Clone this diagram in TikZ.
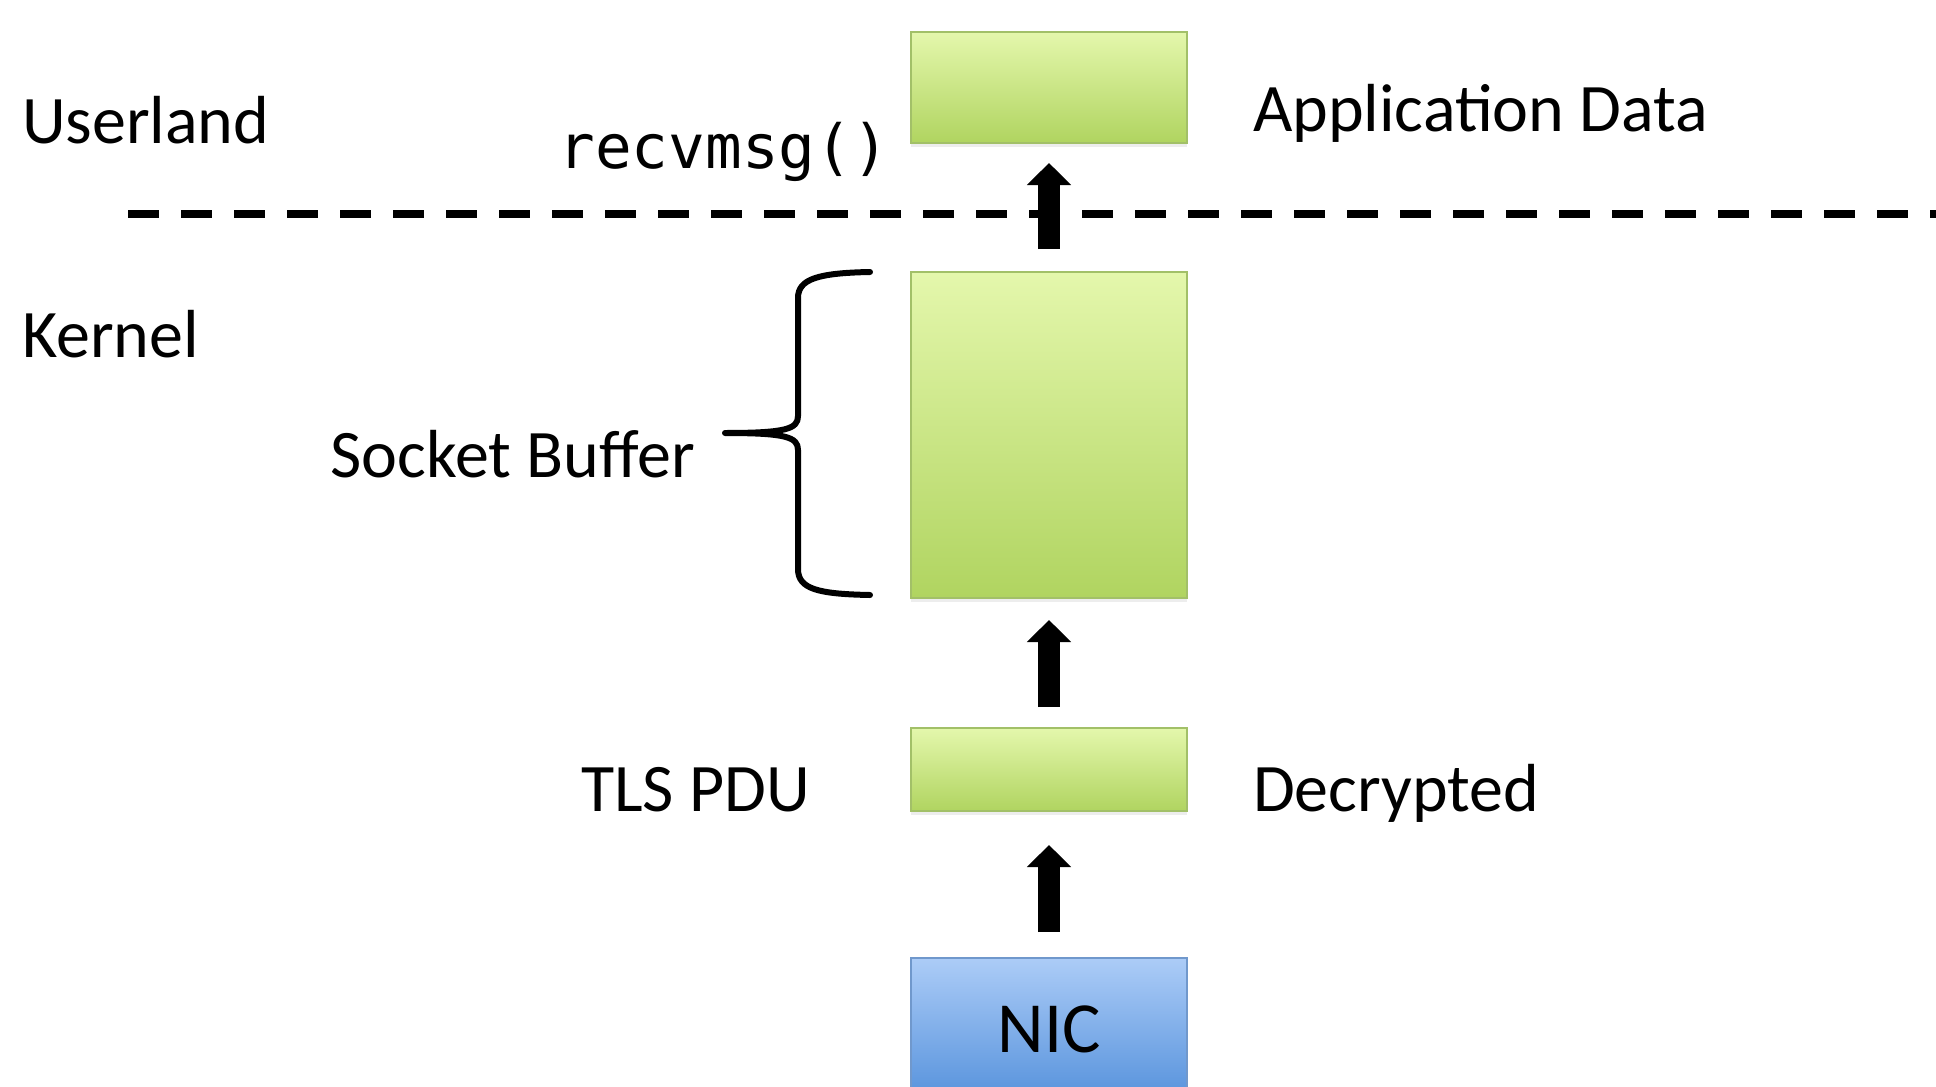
\documentclass[tikz,border=0pt]{standalone}
\usepackage{fontspec}
\setmainfont{Carlito}
\newfontfamily\codefont{DejaVu Sans Mono}
\usetikzlibrary{arrows.meta,shadows}

\definecolor{greentop}{RGB}{228,247,172}
\definecolor{greenbot}{RGB}{176,212,96}
\definecolor{greenedge}{RGB}{162,192,104}
\definecolor{bluetop}{RGB}{172,204,247}
\definecolor{bluebot}{RGB}{86,146,220}
\definecolor{blueedge}{RGB}{112,152,204}

\begin{document}
\begin{tikzpicture}[x=0.5pt,y=-0.5pt,
  every node/.style={inner sep=0pt, outer sep=0pt},
  label text/.style={font=\fontsize{34}{40}\selectfont},
  code text/.style={font=\codefont\fontsize{30.5}{36}\selectfont},
  layerbox/.style={draw=greenedge, line width=1pt, top color=greentop,
    bottom color=greenbot, minimum width=138pt,
    drop shadow={opacity=0.14, shadow xshift=0pt, shadow yshift=-2pt}},
  nicbox/.style={draw=blueedge, line width=1pt, top color=bluetop,
    bottom color=bluebot, minimum width=138pt,
    font=\fontsize{36}{42}\selectfont},
  blockarrow/.style={line width=11pt, line cap=butt,
    -{Triangle[width=21.5pt,length=11pt]}},
  boundary/.style={line width=4pt, dash pattern=on 15.5pt off 11pt},
  bracepath/.style={line width=3pt, line cap=round, line join=round}
]
\useasboundingbox (0,0) rectangle (1936,1086);

% user/kernel boundary
\coordinate (dashL) at (128,214);
\coordinate (dashR) at (1936,214);
\draw[boundary] (dashL) -- (dashR);

% data path boxes
\node[layerbox, minimum height=55.5pt] (app)  at (1049,87.5) {};
\node[layerbox, minimum height=163pt]  (sock) at (1049,435) {};
\node[layerbox, minimum height=41.5pt] (tls)  at (1049,769.5) {};
\node[nicbox,   minimum height=71pt]   (nic)  at (1049,1029) {NIC};

% arrows between stages
\draw[blockarrow, shorten <=13pt,   shorten >=17pt] (nic.north)  -- (tls.south);
\draw[blockarrow, shorten <=10.5pt, shorten >=11pt] (tls.north)  -- (sock.south);
\draw[blockarrow, shorten <=11.5pt, shorten >=10pt] (sock.north) -- (app.south);

% brace spanning the socket buffer
\coordinate (brTop) at (870,272);
\coordinate (brTip) at (725,433);
\coordinate (brBot) at (870,595);
\draw[bracepath] (brTop) .. controls (818,273) and (798,279) .. (798,298)
  -- (798,416) .. controls (798,429) and (786,433) .. (brTip)
  .. controls (786,433) and (798,437) .. (798,450)
  -- (798,569) .. controls (798,589) and (818,594) .. (brBot);

% labels
\node[label text, anchor=base west] (userland) at (22,143) {Userland};
\node[label text, anchor=base west] (kernel)   at (22,357) {Kernel};
\node[code text,  anchor=base east] (recv)     at (889,168) {recvmsg()};
\node[label text, anchor=base west] (appdata)  at (1253,132) {Application Data};
\node[label text, anchor=base east] (sockbuf)  at (695,477) {Socket Buffer};
\node[label text, anchor=base east] (tlspdu)   at (810,811) {TLS PDU};
\node[label text, anchor=base west] (decrypt)  at (1253,811) {Decrypted};
\end{tikzpicture}
\end{document}
